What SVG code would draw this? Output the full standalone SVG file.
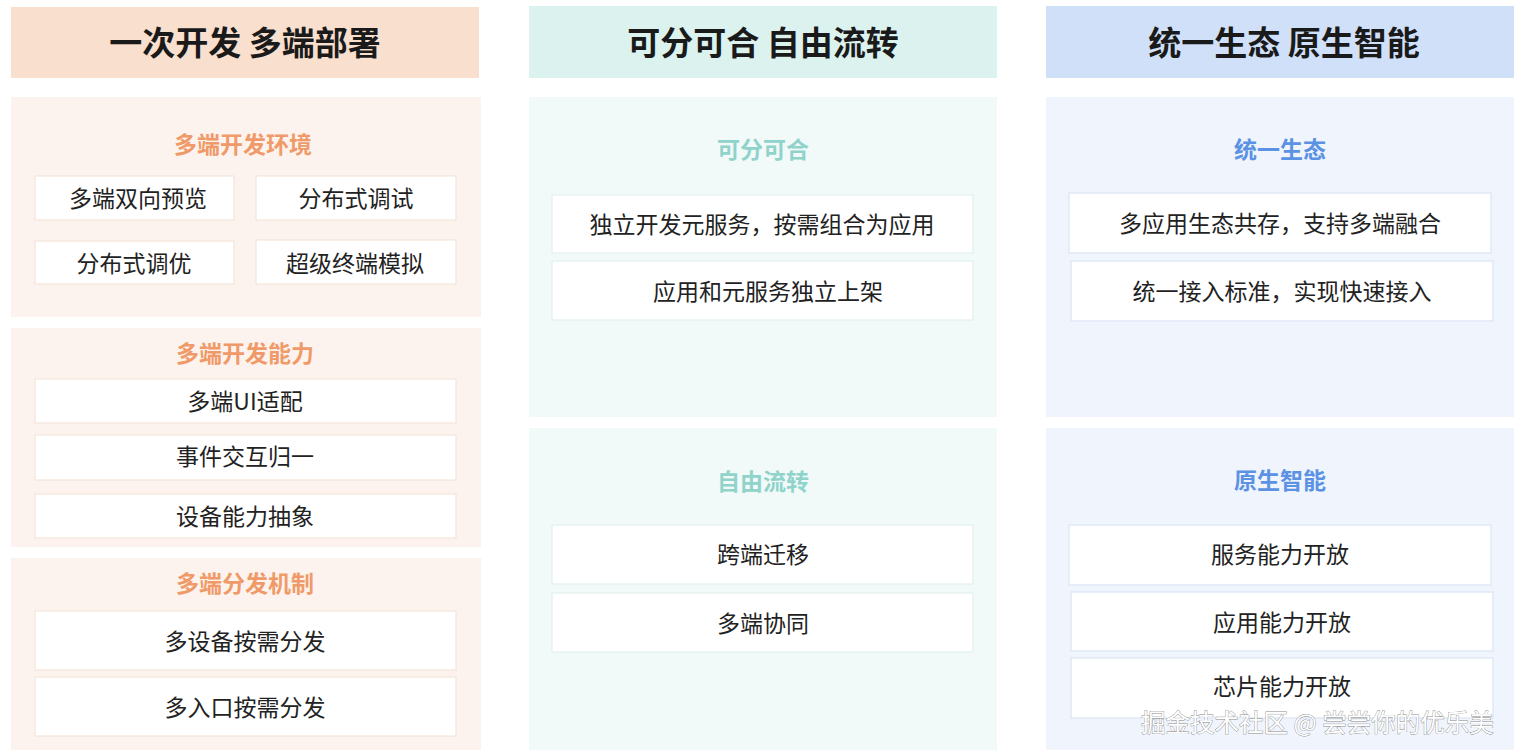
<svg xmlns="http://www.w3.org/2000/svg" width="1522" height="754" viewBox="0 0 1522 754">
<style>
text{font-family:"Noto Sans CJK SC","Noto Sans",sans-serif;text-anchor:middle;dominant-baseline:central}
.hd{font-size:33px;font-weight:700;fill:#1a1a1a}
.st{font-size:23px;font-weight:700}
.bx{font-size:23px;fill:#222}
.box{fill:#fff;stroke-width:1.2}
.o .box{stroke:#f3e4da}.g .box{stroke:#e1f0ee}.b .box{stroke:#dbe5f5}
.o .st{fill:#ef9a68}.g .st{fill:#8fd3ca}.b .st{fill:#5b92e4}
.o .pn{fill:#fdf3ee}.g .pn{fill:#f1faf9}.b .pn{fill:#eff4fd}
.wm{font-size:24.5px;fill:#fff;stroke:#8a8a8a;stroke-width:0.8;paint-order:stroke;text-anchor:start}
</style>
<rect width="1522" height="754" fill="#fff"/>
<g id="col1" class="o">
<g id="h1"><rect x="11" y="7" width="468" height="71" fill="#f9dfcd"/><text class="hd" x="245" y="41">一次开发 多端部署</text></g>
<g id="p1"><rect class="pn" x="11" y="97" width="470" height="220"/><text class="st" x="243" y="143">多端开发环境</text>
<rect class="box" x="35" y="176" width="199" height="44"/><text class="bx" x="138" y="197">多端双向预览</text>
<rect class="box" x="256" y="176" width="200" height="44"/><text class="bx" x="356" y="197">分布式调试</text>
<rect class="box" x="35" y="241" width="199" height="43"/><text class="bx" x="134" y="262">分布式调优</text>
<rect class="box" x="256" y="240" width="200" height="44"/><text class="bx" x="355" y="262">超级终端模拟</text></g>
<g id="p2"><rect class="pn" x="11" y="328" width="470" height="219"/><text class="st" x="245" y="352">多端开发能力</text>
<rect class="box" x="35" y="379" width="421" height="44"/><text class="bx" x="245" y="400">多端UI适配</text>
<rect class="box" x="35" y="435" width="421" height="45"/><text class="bx" x="245" y="455">事件交互归一</text>
<rect class="box" x="35" y="494" width="421" height="44"/><text class="bx" x="245" y="515">设备能力抽象</text></g>
<g id="p3"><rect class="pn" x="11" y="558" width="470" height="192"/><text class="st" x="245" y="582">多端分发机制</text>
<rect class="box" x="35" y="611" width="421" height="59"/><text class="bx" x="245" y="640">多设备按需分发</text>
<rect class="box" x="35" y="677" width="421" height="59"/><text class="bx" x="245" y="706">多入口按需分发</text></g>
</g>
<g id="col2" class="g">
<g id="h2"><rect x="529" y="6" width="468" height="72" fill="#dbf2ef"/><text class="hd" x="763" y="41">可分可合 自由流转</text></g>
<g id="p4"><rect class="pn" x="529" y="97" width="468" height="320"/><text class="st" x="763" y="148">可分可合</text>
<rect class="box" x="552" y="195" width="421" height="58"/><text class="bx" x="762" y="223">独立开发元服务，按需组合为应用</text>
<rect class="box" x="552" y="261" width="421" height="59"/><text class="bx" x="768" y="290">应用和元服务独立上架</text></g>
<g id="p5"><rect class="pn" x="529" y="428" width="468" height="322"/><text class="st" x="763" y="480">自由流转</text>
<rect class="box" x="552" y="525" width="421" height="59"/><text class="bx" x="763" y="553">跨端迁移</text>
<rect class="box" x="552" y="593" width="421" height="59"/><text class="bx" x="763" y="622">多端协同</text></g>
</g>
<g id="col3" class="b">
<g id="h3"><rect x="1046" y="6" width="468" height="72" fill="#cfe0f8"/><text class="hd" x="1284" y="41">统一生态 原生智能</text></g>
<g id="p6"><rect class="pn" x="1046" y="97" width="468" height="320"/><text class="st" x="1280" y="148">统一生态</text>
<rect class="box" x="1069" y="193" width="422" height="60"/><text class="bx" x="1280" y="222">多应用生态共存，支持多端融合</text>
<rect class="box" x="1071" y="261" width="422" height="60"/><text class="bx" x="1282" y="290">统一接入标准，实现快速接入</text></g>
<g id="p7"><rect class="pn" x="1046" y="428" width="468" height="322"/><text class="st" x="1280" y="479">原生智能</text>
<rect class="box" x="1069" y="525" width="422" height="60"/><text class="bx" x="1280" y="553">服务能力开放</text>
<rect class="box" x="1071" y="592" width="422" height="59"/><text class="bx" x="1282" y="621">应用能力开放</text>
<rect class="box" x="1071" y="658" width="422" height="60"/><text class="bx" x="1282" y="685">芯片能力开放</text></g>
</g>
<g id="connectors"/>
<text class="wm" x="1141" y="721">掘金技术社区 @ 尝尝你的优乐美</text>
</svg>
